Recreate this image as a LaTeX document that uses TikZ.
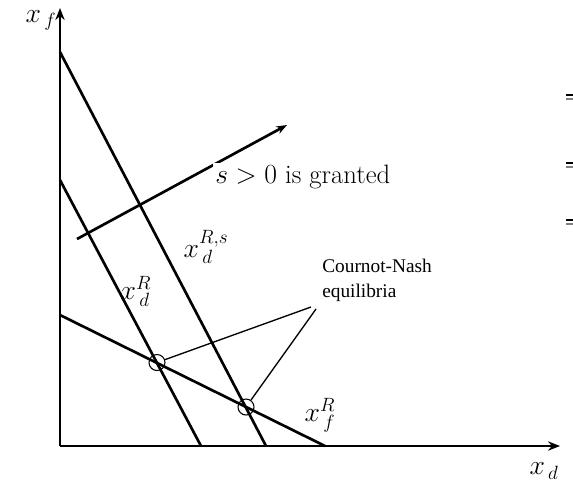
\documentclass[tikz,border=0pt]{standalone}
\usepackage{fontspec}
\newfontfamily\timesf{Liberation Serif}
\usetikzlibrary{arrows.meta}
\tikzset{
  curve/.style={line width=2pt},
  axis/.style={line width=2pt,-{Stealth[length=9pt,width=7pt]}},
  leader/.style={line width=1pt},
  eqcircle/.style={circle,draw,line width=0.8pt,minimum size=12pt,inner sep=0pt},
  mathlbl/.style={font=\fontsize{20}{22}\selectfont,inner sep=0pt},
  edgetick/.style={line width=1.2pt}
}
\begin{document}
\begin{tikzpicture}[x=0.75pt,y=-0.75pt]
\useasboundingbox (0,0) rectangle (573,487);
% axes
\coordinate (O) at (60,446);
\coordinate (ytip) at (60,8);
\coordinate (xtip) at (560,446);
\draw[axis] (O) -- (ytip);
\draw[axis] (O) -- (xtip);
% reaction curves
\coordinate (ds1) at (60,52);  \coordinate (ds2) at (266,446);
\coordinate (d1) at (60,180);  \coordinate (d2) at (201,446);
\coordinate (f1) at (60,315);  \coordinate (f2) at (325,446);
\draw[curve] (ds1) -- (ds2);
\draw[curve] (d1) -- (d2);
\draw[curve] (f1) -- (f2);
% shift arrow
\coordinate (a1) at (77,239);
\coordinate (a2) at (287,125);
\draw[line width=2pt,-{Stealth[length=8pt,width=6pt]}] (a1) -- (a2);
\node[mathlbl,anchor=north west,fill=white,inner sep=1.5pt] (grant) at (213,163) {$s>0$ is granted};
% equilibria
\node[eqcircle] (e1) at (157,362.5) {};
\node[eqcircle] (e2) at (246,407) {};
\coordinate (c1) at (311,307);
\coordinate (c2) at (316,309);
\draw[leader] (e1) -- (c1);
\draw[leader] (c2) -- (e2);
\node[font={\timesf\fontsize{14.5}{18.5}\selectfont},align=left,anchor=north west,inner sep=0pt] (cn) at (322,259) {Cournot-Nash\\equilibria};
% labels
\node[mathlbl] (lxf) at (41,20) {$x_{\,f}$};
\node[mathlbl] (lxd) at (544,471) {$x_{\,d}$};
\node[mathlbl] (lxdR) at (136,291) {$x_{\,d}^{R}$};
\node[mathlbl] (lxdRs) at (206,247) {$x_{\,d}^{R,s}$};
\node[mathlbl] (lxfR) at (320,415) {$x_{\,f}^{R}$};
% right-edge marks
\foreach \yy [count=\i] in {97,165,222}{
  \coordinate (mA\i) at (566,\yy-2); \coordinate (mB\i) at (573,\yy-2);
  \coordinate (mC\i) at (566,\yy+2); \coordinate (mD\i) at (573,\yy+2);
  \draw[edgetick] (mA\i) -- (mB\i);
  \draw[edgetick,gray] (mC\i) -- (mD\i);
}
\end{tikzpicture}
\end{document}
